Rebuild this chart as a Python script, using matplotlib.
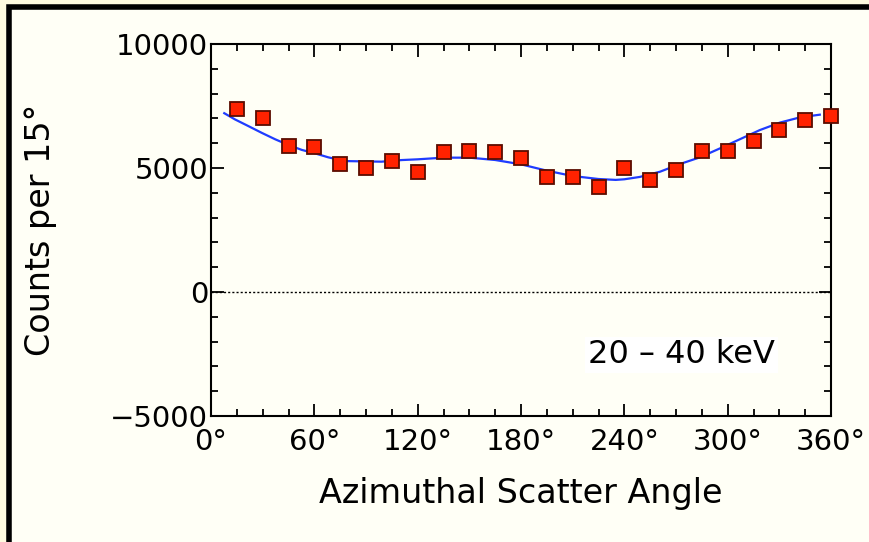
import numpy as np
import matplotlib.pyplot as plt
from matplotlib.patches import Rectangle
from matplotlib.ticker import MultipleLocator, FuncFormatter

# measured counts per 15 deg bin
angles = [15, 30, 45, 60, 75, 90, 105, 120, 135, 150, 165, 180,
          195, 210, 225, 240, 255, 270, 285, 300, 315, 330, 345, 360]
counts = [7360, 7000, 5880, 5830, 5150, 4990, 5300, 4850, 5630, 5680, 5630, 5410,
          4640, 4640, 4230, 4990, 4520, 4920, 5690, 5670, 6100, 6520, 6930, 7100]

# fitted modulation curve
fit_angles = [7.7, 13.9, 21.7, 29.4, 37.2, 44.9, 52.7, 60.4, 68.1, 77.8, 90, 99, 110.7,
              120, 135, 150, 165, 180, 195, 210, 225, 235, 240, 249, 260.7, 272.3,
              283.9, 295.5, 307.1, 318.7, 330.3, 341.9, 353.5]
fit_counts = [7210, 6960, 6690, 6420, 6160, 5930, 5730, 5590, 5430, 5280, 5265, 5255, 5320,
              5350, 5417, 5417, 5323, 5148, 4892, 4677, 4556, 4520, 4545, 4640, 4850, 5160,
              5430, 5790, 6160, 6530, 6830, 7040, 7150]

label_text = "20 \u2013 40 keV"


def draw_chart():
    fig = plt.figure(figsize=(8.69, 5.42), dpi=100, facecolor='#fffbe0')
    # black frame around the plotting panel
    fig.patches.append(Rectangle((8.5 / 869, -0.01), 1.2, 1.01 - 7 / 542,
                                 transform=fig.transFigure, facecolor='#fffff6',
                                 edgecolor='black', linewidth=4, zorder=-5))

    ax = fig.add_axes([211 / 869, 126 / 542, 620 / 869, 372 / 542])
    ax.set_facecolor('#fffff6')

    ax.axhline(0, color='black', linestyle=(0, (1.5, 1.5)), linewidth=1)
    ax.plot(fit_angles, fit_counts, color='#1f3cff', linewidth=1.6, zorder=3)
    ax.plot(angles, counts, linestyle='none', marker='s', markersize=9.5,
            markerfacecolor='#ff2200', markeredgecolor='#5a0c00', markeredgewidth=1.3,
            zorder=4, clip_on=False)

    ax.set_xlim(0, 360)
    ax.set_ylim(-5000, 10000)
    ax.xaxis.set_major_locator(MultipleLocator(60))
    ax.xaxis.set_minor_locator(MultipleLocator(15))
    ax.yaxis.set_major_locator(MultipleLocator(5000))
    ax.yaxis.set_minor_locator(MultipleLocator(1000))
    ax.xaxis.set_major_formatter(FuncFormatter(lambda v, p: f"{int(v)}\u00b0"))
    ax.yaxis.set_major_formatter(FuncFormatter(lambda v, p: f"{int(v)}".replace('-', '\u2212')))

    ax.tick_params(which='both', direction='in', top=True, right=True, width=1.3)
    ax.tick_params(which='major', length=9, labelsize=21)
    ax.tick_params(axis='y', which='major', pad=2)
    ax.tick_params(axis='x', which='major', pad=9)
    ax.tick_params(which='minor', length=5)
    for s in ax.spines.values():
        s.set_linewidth(1.5)

    ax.set_xlabel('Azimuthal Scatter Angle', fontsize=24, labelpad=15)
    ax.set_ylabel('Counts per 15\u00b0', fontsize=24, labelpad=38)

    ax.text(0.91, 0.164, label_text, transform=ax.transAxes, fontsize=23,
            ha='right', va='center',
            bbox=dict(facecolor='white', edgecolor='none', pad=2))

    fig.savefig('out.png', dpi=100, facecolor=fig.get_facecolor())


if __name__ == '__main__':
    draw_chart()
